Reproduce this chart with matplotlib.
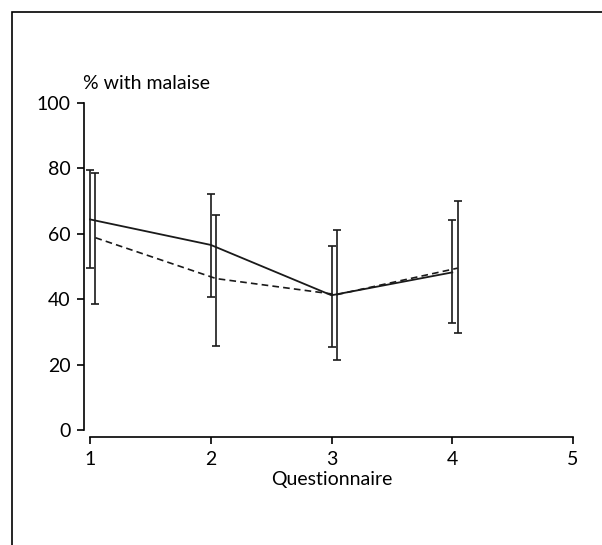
import matplotlib.pyplot as plt
from matplotlib.patches import Rectangle

plt.rcParams['font.family'] = ['Lato', 'DejaVu Sans']

questionnaire = [1, 2, 3, 4]

# solid series
solid_pct = [64.4, 56.6, 41.2, 48.2]
solid_lo = [49.5, 40.8, 25.3, 32.7]
solid_hi = [79.4, 72.1, 56.4, 64.1]

# dashed series (drawn slightly to the right)
dashed_pct = [58.8, 46.3, 41.4, 49.5]
dashed_lo = [38.6, 25.8, 21.5, 29.7]
dashed_hi = [78.7, 65.7, 61.3, 70.0]

W, H = 602, 545
fig = plt.figure(figsize=(W / 100, H / 100), dpi=100)
ax = fig.add_axes([90 / W, (H - 430) / H, (573 - 90) / W, (430 - 103) / H])

# outer frame of the figure panel
fig.patches.append(Rectangle((12 / W, -0.05), 1.0, (H - 12) / H + 0.05,
                             transform=fig.transFigure, fill=False,
                             edgecolor='black', linewidth=1.2))

offset = 0.045
x_dash = [q + offset for q in questionnaire]

def err(vals, lo, hi):
    return [[v - l for v, l in zip(vals, lo)], [h - v for v, h in zip(vals, hi)]]

ax.errorbar(questionnaire, solid_pct, yerr=err(solid_pct, solid_lo, solid_hi),
            color='#1a1a1a', linewidth=1.3, elinewidth=1.2, capsize=3,
            capthick=1.2, clip_on=False)
ax.errorbar(x_dash, dashed_pct, yerr=err(dashed_pct, dashed_lo, dashed_hi),
            color='#1a1a1a', linewidth=1.2, linestyle=(0, (4, 2.5)),
            elinewidth=1.2, capsize=3, capthick=1.2, clip_on=False)

ax.set_xlim(1, 5)
ax.set_ylim(0, 100)
ax.set_xticks([1, 2, 3, 4, 5])
ax.set_yticks([0, 20, 40, 60, 80, 100])
ax.spines['top'].set_visible(False)
ax.spines['right'].set_visible(False)
ax.spines['left'].set_position(('outward', 4))
ax.spines['bottom'].set_position(('outward', 5))
ax.spines['left'].set_linewidth(1.2)
ax.spines['bottom'].set_linewidth(1.2)
ax.tick_params(direction='out', length=5, width=1.2, labelsize=14)
ax.tick_params(axis='y', pad=5)
ax.tick_params(axis='x', pad=5)

ax.set_xlabel('Questionnaire', fontsize=14, labelpad=2)
ax.text(-0.015, 1.035, '% with malaise', transform=ax.transAxes,
        fontsize=14, ha='left', va='bottom')

fig.savefig('out.png', dpi=100)
